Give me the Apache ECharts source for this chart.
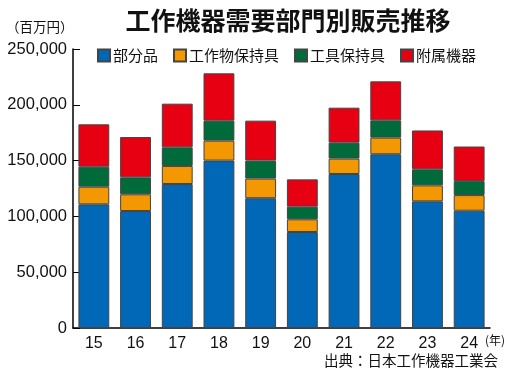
<!DOCTYPE html>
<html><head><meta charset="utf-8">
<script src="https://cdn.jsdelivr.net/npm/echarts@6/dist/echarts.min.js"></script>
<style>html,body{margin:0;padding:0;background:#fff}#c{width:507px;height:380px}</style>
</head><body><div id="c"></div>
<script>
const categories = ['15','16','17','18','19','20','21','22','23','24'];
const parts    = [110800,104800,129000,150000,116300,86000,138000,155700,113500,105100];
const workHold = [15800,15000,16200,17900,17600,11400,13800,14900,14300,14000];
const toolHold = [17900,15200,16700,17900,16100,11300,14300,15500,14400,12500];
const accessory= [38000,36100,39100,42400,35800,24500,31300,34900,34800,31000];
const seriesNames = ['部分品','工作物保持具','工具保持具','附属機器'];
const colors = ['#0068b7','#f39800','#006b3a','#e60012'];
const FONT = "'Liberation Sans','Noto Sans CJK JP',sans-serif";
const JP = "'Noto Sans CJK JP',sans-serif";
const chart = echarts.init(document.getElementById('c'));
const data = [parts, workHold, toolHold, accessory];
chart.setOption({
  animation:false,
  textStyle:{fontFamily:FONT},
  title:{text:'工作機器需要部門別販売推移',left:283,textAlign:'center',top:3,
    textStyle:{fontSize:25,fontWeight:'bold',color:'#111',fontFamily:JP}},
  graphic:[
    {type:'text',left:6,top:20,style:{text:'（百万円）',fontSize:13.5,fill:'#111',fontFamily:JP}},
    {type:'text',right:9,top:353,style:{text:'出典：日本工作機器工業会',fontSize:14.5,fill:'#111',fontFamily:JP}},
    {type:'text',left:485,top:334,style:{text:'(年)',fontSize:12,fill:'#111',fontFamily:JP}}
  ],
  legend:{left:92,top:43,itemWidth:12,itemHeight:12,itemGap:15,icon:'rect',
    data:seriesNames,
    textStyle:{fontSize:15,color:'#111',padding:[0,0,0,-2],fontFamily:JP}},
  grid:{left:73,right:17,top:49,bottom:52,containLabel:false},
  xAxis:{type:'category',data:categories,
    axisLine:{lineStyle:{color:'#000',width:1.5}},
    axisTick:{inside:true,length:5,lineStyle:{color:'#000'}},
    axisLabel:{fontSize:16,color:'#111',margin:8}},
  yAxis:{type:'value',min:0,max:250000,interval:50000,
    axisLine:{show:true,lineStyle:{color:'#000',width:1.5}},
    axisTick:{show:true,inside:true,length:7,lineStyle:{color:'#000'}},
    splitLine:{show:false},
    axisLabel:{fontSize:16.5,color:'#111',margin:6,
      formatter:v=>v.toLocaleString('en-US')}},
  series: seriesNames.map((n,i)=>({
    name:n,type:'bar',stack:'total',data:data[i],barWidth:'74%',
    itemStyle:{color:colors[i],borderColor:'#444',borderWidth:1}
  }))
});
</script></body></html>
